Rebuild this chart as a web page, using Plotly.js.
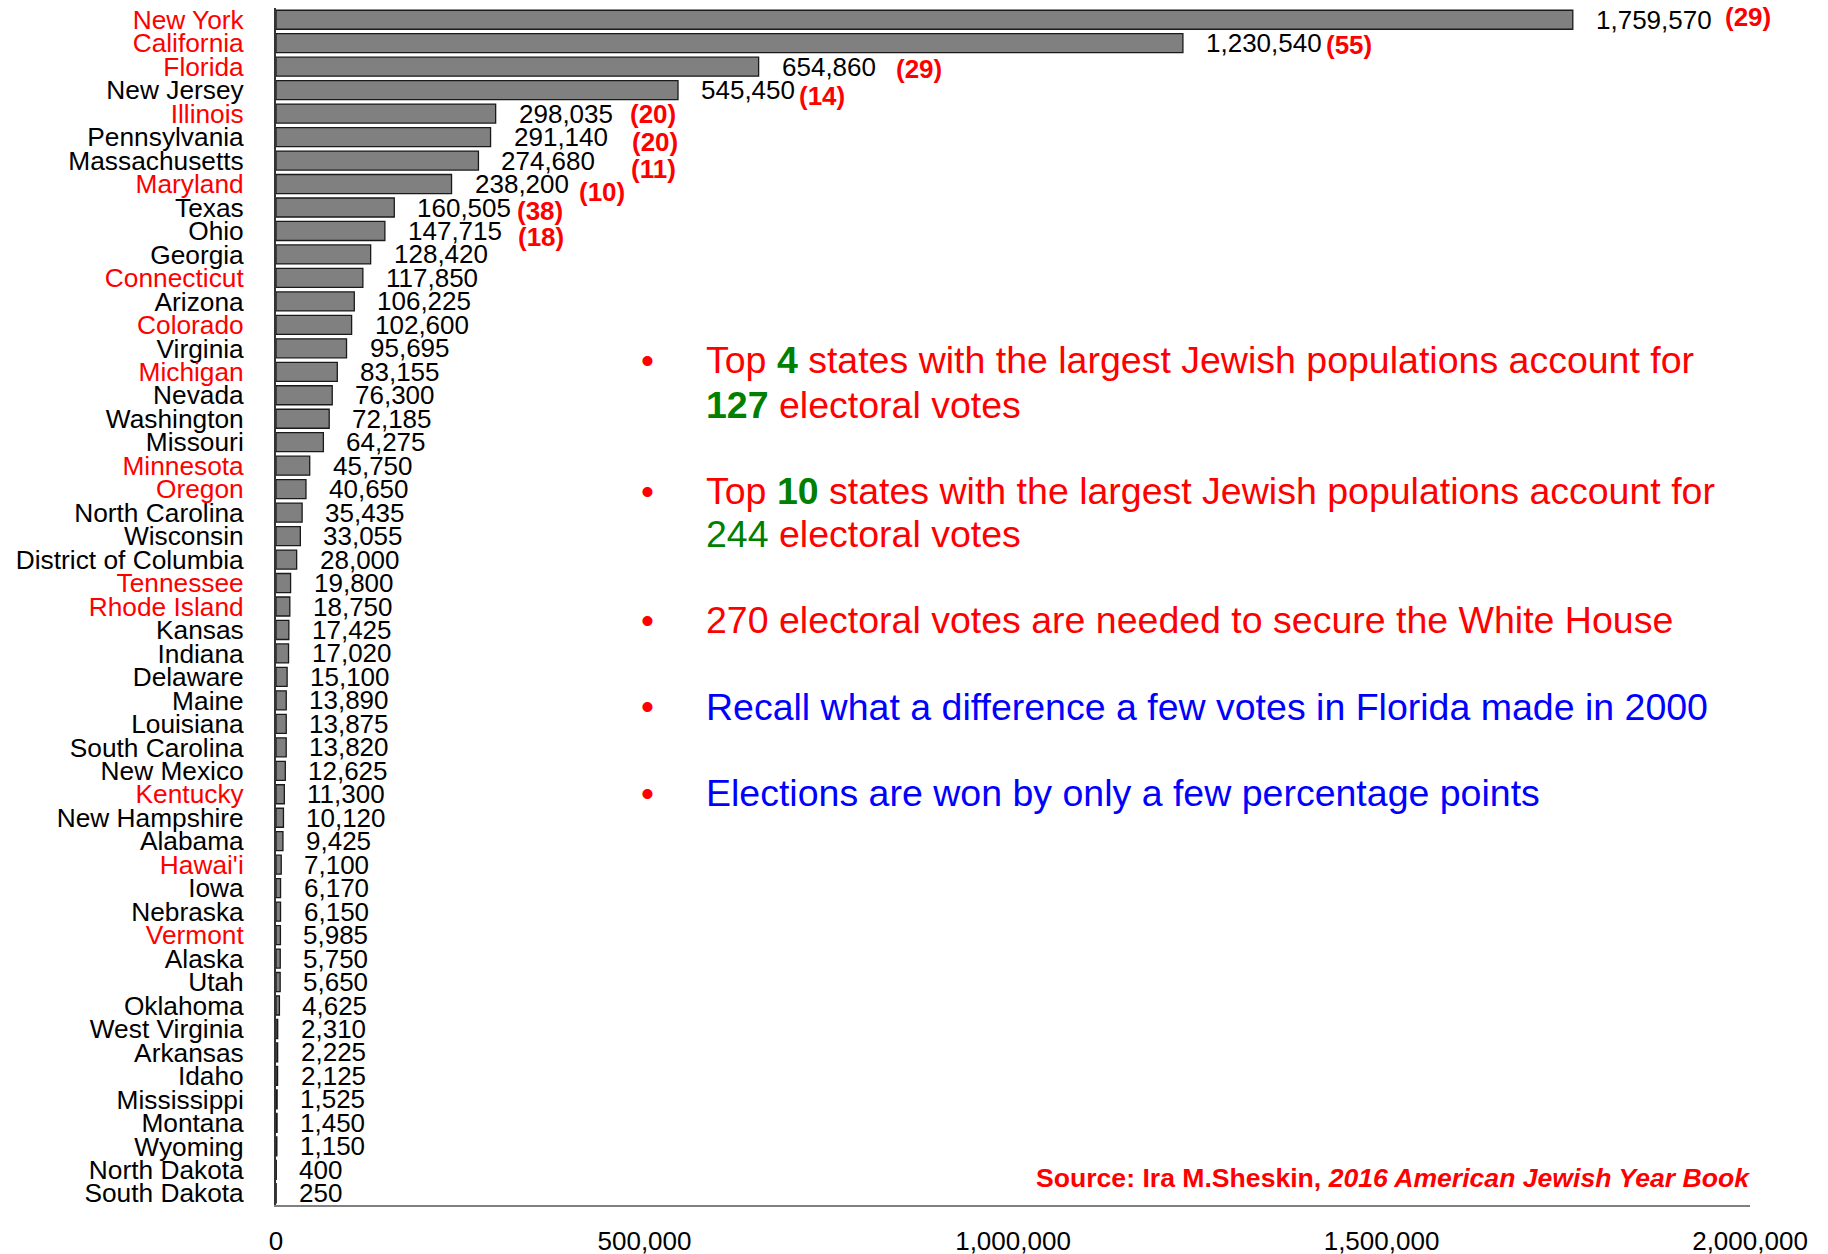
<!DOCTYPE html>
<html><head><meta charset="utf-8">
<script src="https://cdn.plot.ly/plotly-3.0.1.min.js"></script>
<style>html,body{margin:0;padding:0;background:#fff;}#chart{width:1828px;height:1254px;}</style>
</head><body><div id="chart"></div>
<script>
const states = ["New York","California","Florida","New Jersey","Illinois","Pennsylvania","Massachusetts","Maryland","Texas","Ohio","Georgia","Connecticut","Arizona","Colorado","Virginia","Michigan","Nevada","Washington","Missouri","Minnesota","Oregon","North Carolina","Wisconsin","District of Columbia","Tennessee","Rhode Island","Kansas","Indiana","Delaware","Maine","Louisiana","South Carolina","New Mexico","Kentucky","New Hampshire","Alabama","Hawai'i","Iowa","Nebraska","Vermont","Alaska","Utah","Oklahoma","West Virginia","Arkansas","Idaho","Mississippi","Montana","Wyoming","North Dakota","South Dakota"];
const jewishPop = [1759570,1230540,654860,545450,298035,291140,274680,238200,160505,147715,128420,117850,106225,102600,95695,83155,76300,72185,64275,45750,40650,35435,33055,28000,19800,18750,17425,17020,15100,13890,13875,13820,12625,11300,10120,9425,7100,6170,6150,5985,5750,5650,4625,2310,2225,2125,1525,1450,1150,400,250];
const redStates = ["New York","California","Florida","Illinois","Maryland","Connecticut","Colorado","Michigan","Minnesota","Oregon","Tennessee","Rhode Island","Kentucky","Hawai'i","Vermont"];
const evStates = ["New York","California","Florida","New Jersey","Illinois","Pennsylvania","Massachusetts","Maryland","Texas","Ohio"];
const evVotes = [29,55,29,14,20,20,11,10,38,18];
const xTickVals = [0,500000,1000000,1500000,2000000];
const xTickText = ["0","500,000","1,000,000","1,500,000","2,000,000"];
const bulletLines = [
  ["Top <b><span style='color:#008000'>4</span></b> states with the largest Jewish populations account for",
   "<b><span style='color:#008000'>127</span></b> electoral votes"],
  ["Top <b><span style='color:#008000'>10</span></b> states with the largest Jewish populations account for",
   "<span style='color:#008000'>244</span> electoral votes"],
  ["270 electoral votes are needed to secure the White House"],
  ["<span style='color:#0000ff'>Recall what a difference a few votes in Florida made in 2000</span>"],
  ["<span style='color:#0000ff'>Elections are won by only a few percentage points</span>"]
];
const sourceText = "<b>Source: Ira M.Sheskin, <i>2016 American Jewish Year Book</i></b>";

// layout geometry (pixels)
const W = 1828, H = 1254, ML = 276, MR = 78, MT = 8, MB = 49;
const PW = W - ML - MR, PH = H - MT - MB;
const pxX = p => (p - ML) / PW;
const pxY = p => (H - MB - p) / PH;

// style/position tweaks for electoral-vote labels (pixels from bar end)
const evXShift = [150,141,135,119,132,139,151,125,121,131];
const evYShift = [3,-2,-2,-6,0,-5,-8,-8,-3,-6];
const bulletY = [[360,404.5],[491,534],[620],[706.5],[793]];

const FONT = "Liberation Sans, Arial, Helvetica, sans-serif";

const tickText = states.map(s => redStates.includes(s) ? `<span style="color:#ff0000">${s}</span>` : s);

const annotations = [];
states.forEach((s, i) => {
  annotations.push({x: jewishPop[i], y: s, xref: 'x', yref: 'y', text: jewishPop[i].toLocaleString('en-US'),
    showarrow: false, xanchor: 'left', yanchor: 'middle', xshift: 21,
    font: {family: FONT, size: 26, color: '#000'}});
});
evStates.forEach((s, k) => {
  const i = states.indexOf(s);
  annotations.push({x: jewishPop[i], y: s, xref: 'x', yref: 'y', text: `<b>(${evVotes[k]})</b>`,
    showarrow: false, xanchor: 'left', yanchor: 'middle', xshift: evXShift[k], yshift: evYShift[k],
    font: {family: FONT, size: 26, color: '#ff0000'}});
});
bulletLines.forEach((lines, b) => {
  annotations.push({x: pxX(647), y: pxY(bulletY[b][0]), xref: 'paper', yref: 'paper', text: '•',
    showarrow: false, xanchor: 'center', yanchor: 'middle', font: {family: FONT, size: 37, color: '#ff0000'}});
  lines.forEach((t, j) => {
    annotations.push({x: pxX(704), y: pxY(bulletY[b][j]), xref: 'paper', yref: 'paper', text: t,
      showarrow: false, xanchor: 'left', yanchor: 'middle', align: 'left',
      font: {family: FONT, size: 37.5, color: '#ff0000'}});
  });
});
annotations.push({x: pxX(1752), y: pxY(1178), xref: 'paper', yref: 'paper', text: sourceText, showarrow: false,
  xanchor: 'right', yanchor: 'middle', font: {family: FONT, size: 26.6, color: '#ff0000'}});

const trace = {
  type: 'bar', orientation: 'h', x: jewishPop, y: states,
  marker: {color: '#808080', line: {color: '#1a1a1a', width: 1.3}},
  hoverinfo: 'skip'
};

const layout = {
  width: W, height: H,
  margin: {l: ML, r: MR, t: MT, b: MB, pad: 0},
  paper_bgcolor: '#fff', plot_bgcolor: '#fff',
  showlegend: false, bargap: 0.19,
  font: {family: FONT, size: 26, color: '#000'},
  xaxis: {range: [0, 2000000], autorange: false, tickvals: xTickVals, ticktext: xTickText, showgrid: false, zeroline: false,
    showline: true, linecolor: '#808080', linewidth: 2, ticks: 'outside', ticklen: 12, tickcolor: 'rgba(0,0,0,0)',
    tickfont: {family: FONT, size: 26, color: '#000'}, automargin: false, fixedrange: true},
  yaxis: {type: 'category', range: [states.length - 0.5, -0.5], autorange: false, tickvals: states, ticktext: tickText,
    showgrid: false, zeroline: false,
    showline: true, linecolor: '#333', linewidth: 2, ticks: 'outside', ticklen: 25, tickcolor: 'rgba(0,0,0,0)',
    tickfont: {family: FONT, size: 26.3, color: '#000'}, automargin: false, fixedrange: true},
  annotations: annotations,
  hovermode: false
};

Plotly.newPlot('chart', [trace], layout, {displayModeBar: false, staticPlot: true});
</script>
</body></html>
